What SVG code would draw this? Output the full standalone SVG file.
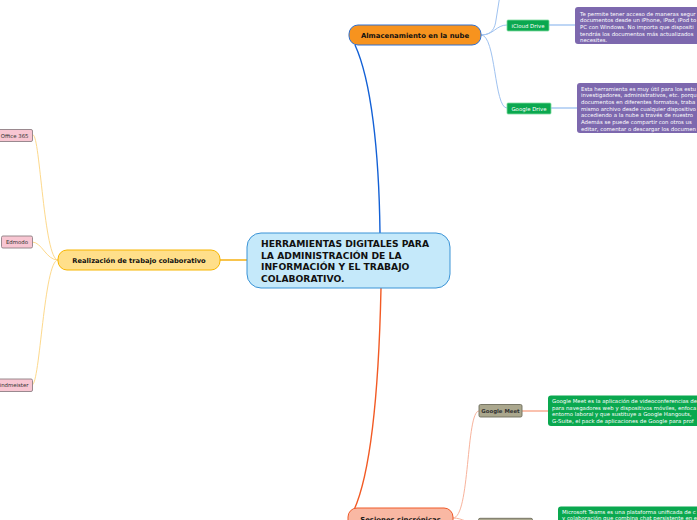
<svg xmlns="http://www.w3.org/2000/svg" width="697" height="520" viewBox="0 0 697 520">
<style>
  .main { font-family: "DejaVu Sans", Verdana, sans-serif; font-weight: bold; fill: #111; }
  .small { font-family: "DejaVu Sans", Verdana, sans-serif; font-size: 5.4px; }
  .wt { fill: #ffffff; }
  .dk { fill: #333333; }
  .conn { fill: none; }
  .gbox { fill: #0aa84f; stroke: #7fdba0; stroke-width: 0.8; }
  .pbox { fill: #7d68ae; }
  .gdesc { fill: #0aa84f; }
  .pink { fill: #f8c6d2; stroke: #8f7f84; stroke-width: 0.9; }
  .khaki { fill: #aaa78d; stroke: #6e6d5c; stroke-width: 0.9; }
</style>
<rect width="697" height="520" fill="#ffffff"/>

<g id="connectors">
  <path class="conn" d="M380,233 C379,150 371,80 355,45" stroke="#1260d6" stroke-width="1.4"/>
  <path class="conn" d="M247,260 L220,260" stroke="#f5ab00" stroke-width="1.4"/>
  <path class="conn" d="M381,288 C379,380 372,470 354,510" stroke="#f25a24" stroke-width="1.4"/>

  <path class="conn" d="M481,35 C492,35 495,28 496,20 L500,-5" stroke="#9fc2f0" stroke-width="1"/>
  <path class="conn" d="M481,35 C494,35 496,25 507,25" stroke="#9fc2f0" stroke-width="1"/>
  <path class="conn" d="M481,35 C496,35 494,108 507,108" stroke="#9fc2f0" stroke-width="1"/>
  <path class="conn" d="M549,25 L575,25" stroke="#a8c8f2" stroke-width="1.5"/>
  <path class="conn" d="M551,108 L577,108" stroke="#a8c8f2" stroke-width="1.5"/>

  <path class="conn" d="M58,260 C44,260 40,135 33,135" stroke="#fdd98c" stroke-width="1"/>
  <path class="conn" d="M58,260 C46,260 42,242 32,242" stroke="#fdd98c" stroke-width="1"/>
  <path class="conn" d="M58,260 C44,260 40,385 32,385" stroke="#fdd98c" stroke-width="1"/>

  <path class="conn" d="M453,518 C470,518 466,411 479,411" stroke="#f8b39c" stroke-width="1"/>
  <path class="conn" d="M453,518 C463,518 468,524 479,524" stroke="#f8b39c" stroke-width="1"/>
  <path class="conn" d="M522,411 L548,411" stroke="#f8ac93" stroke-width="1.5"/>
</g>

<g id="central">
  <rect x="247" y="233" width="203" height="55" rx="14" fill="#c5e9fa" stroke="#3a93d6" stroke-width="1"/>
  <text class="main" font-size="9.2" x="261" y="247">HERRAMIENTAS DIGITALES PARA</text>
  <text class="main" font-size="9.2" x="261" y="258.5">LA ADMINISTRACIÓN DE LA</text>
  <text class="main" font-size="9.2" x="261" y="270">INFORMACIÓN Y EL TRABAJO</text>
  <text class="main" font-size="9.2" x="261" y="281.5">COLABORATIVO.</text>
</g>

<g id="almacenamiento">
  <rect x="349" y="25" width="132" height="20" rx="9" fill="#f7931e" stroke="#2e6fd0" stroke-width="1"/>
  <text class="main" font-size="6.9" x="415" y="37.5" text-anchor="middle">Almacenamiento en la nube</text>
</g>

<g id="icloud">
  <rect class="gbox" x="507" y="20" width="42" height="11" rx="1"/>
  <text class="small wt" x="528" y="27.6" text-anchor="middle">iCloud Drive</text>
</g>
<g id="icloud-desc">
  <rect class="pbox" x="575" y="7" width="140" height="37" rx="3"/>
  <text class="small wt" x="580" y="15.5">Te permite tener acceso de maneras segur</text>
  <text class="small wt" x="580" y="22.2">documentos desde un iPhone, iPad, iPod to</text>
  <text class="small wt" x="580" y="28.9">PC con Windows. No importa que dispositi</text>
  <text class="small wt" x="580" y="35.6">tendrás los documentos más actualizados</text>
  <text class="small wt" x="580" y="42.3">necesites.</text>
</g>

<g id="gdrive">
  <rect class="gbox" x="507" y="103" width="44" height="11" rx="1"/>
  <text class="small wt" x="529" y="110.6" text-anchor="middle">Google Drive</text>
</g>
<g id="gdrive-desc">
  <rect class="pbox" x="577" y="83" width="140" height="50" rx="3"/>
  <text class="small wt" x="581" y="90.5">Esta herramienta es muy útil para los estu</text>
  <text class="small wt" x="581" y="97.2">investigadores, administrativos, etc. porqu</text>
  <text class="small wt" x="581" y="103.9">documentos en diferentes formatos, traba</text>
  <text class="small wt" x="581" y="110.6">mismo archivo desde cualquier dispositivo</text>
  <text class="small wt" x="581" y="117.3">accediendo a la nube a través de nuestro</text>
  <text class="small wt" x="581" y="124">Además se puede compartir  con otros us</text>
  <text class="small wt" x="581" y="130.7">editar, comentar o descargar los documen</text>
</g>

<g id="realizacion">
  <rect x="58" y="250" width="162" height="20" rx="9" fill="#ffdf8a" stroke="#f7b500" stroke-width="1"/>
  <text class="main" font-size="6.7" x="139" y="262.5" text-anchor="middle">Realización de trabajo colaborativo</text>
</g>

<g id="office365">
  <rect class="pink" x="-6" y="129.5" width="38.5" height="12" rx="1.5"/>
  <text class="small dk" x="28.5" y="137.6" text-anchor="end">Office 365</text>
</g>
<g id="edmodo">
  <rect class="pink" x="1.5" y="236" width="31" height="12" rx="1.5"/>
  <text class="small dk" x="17" y="244.1" text-anchor="middle">Edmodo</text>
</g>
<g id="mindmeister">
  <rect class="pink" x="-12" y="379" width="44.5" height="12.5" rx="1.5"/>
  <text class="small dk" x="28.5" y="387.3" text-anchor="end">Mindmeister</text>
</g>

<g id="sesiones">
  <rect x="348" y="508" width="105" height="24" rx="9" fill="#f9b8a3" stroke="#ef5a29" stroke-width="1"/>
  <text class="main" font-size="6.9" x="400.5" y="521.5" text-anchor="middle">Sesiones sincrónicas</text>
</g>

<g id="googlemeet">
  <rect class="khaki" x="479" y="404.5" width="43" height="12.5" rx="1.5"/>
  <text class="small" x="500.5" y="412.7" text-anchor="middle" font-weight="bold" font-size="5" fill="#333">Google Meet</text>
</g>
<g id="googlemeet-desc">
  <rect class="gdesc" x="548" y="395.5" width="160" height="30.5" rx="3"/>
  <text class="small wt" x="552" y="403">Google Meet es la aplicación de videoconferencias de</text>
  <text class="small wt" x="552" y="409.7">para navegadores web y dispositivos móviles, enfoca</text>
  <text class="small wt" x="552" y="416.4">entorno laboral y que sustituye a Google Hangouts,</text>
  <text class="small wt" x="552" y="423.1">G-Suite, el pack de aplicaciones de Google para prof</text>
</g>

<g id="teams">
  <rect class="khaki" x="478.5" y="518.3" width="54" height="12.5" rx="1.5"/>
</g>
<g id="teams-desc">
  <rect class="gdesc" x="558" y="506.5" width="160" height="30" rx="3"/>
  <text class="small wt" x="562" y="513.5">Microsoft Teams es una plataforma unificada de c</text>
  <text class="small wt" x="562" y="520.2">y colaboración que combina chat persistente en e</text>
</g>
</svg>
